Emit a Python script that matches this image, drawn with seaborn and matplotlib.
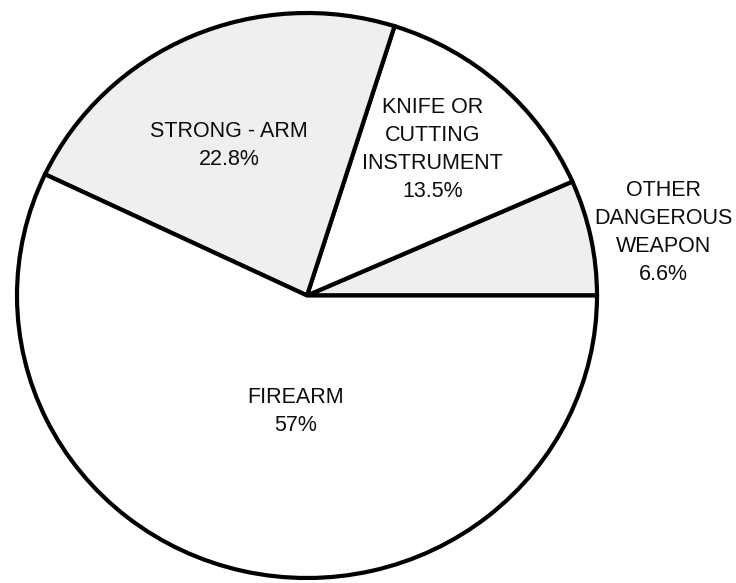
import matplotlib
matplotlib.use("Agg")
import matplotlib.pyplot as plt
import seaborn as sns

# slices, counter-clockwise from 3 o'clock
categories = ["OTHER\nDANGEROUS\nWEAPON", "KNIFE OR\nCUTTING\nINSTRUMENT",
              "STRONG - ARM", "FIREARM"]
shares = [6.6, 13.5, 22.8, 57.0]
pct_text = ["6.6%", "13.5%", "22.8%", "57%"]
stippled = [True, False, True, False]

# label placement in pie units (radius = 1)
label_x = [1.228, 0.434, -0.269, -0.041]
label_y = [0.223, 0.517, 0.531, -0.411]

sns.set_theme(style="white")
plt.rcParams["font.family"] = ["Liberation Sans", "DejaVu Sans"]

fig = plt.figure(figsize=(7.36, 5.83), dpi=100)
fig.patch.set_facecolor("white")
# the scanned circle is a touch wider than tall
ax = fig.add_axes([17 / 736, 5 / 583, 580 / 736, 565 / 583])

face = ["#efefef" if s else "white" for s in stippled]
wedges, _ = ax.pie(shares, startangle=0, counterclock=True, colors=face,
                   wedgeprops=dict(edgecolor="black", linewidth=3.0))

for name, pct, x, y in zip(categories, pct_text, label_x, label_y):
    ax.text(x, y, f"{name}\n{pct}", ha="center", va="center",
            fontsize=15.5, linespacing=1.45, color="#0d0d0d", zorder=5)

ax.set_aspect("auto")
ax.set_xlim(-1.0, 1.0)
ax.set_ylim(-1.0, 1.0)
ax.axis("off")

fig.savefig("out.png", dpi=100, facecolor="white")
